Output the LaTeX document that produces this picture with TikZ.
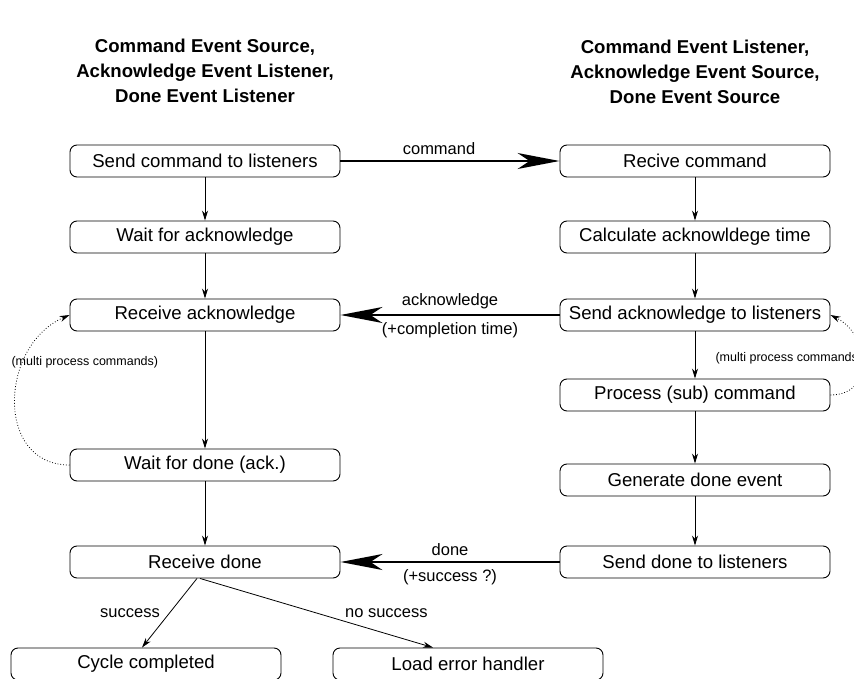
\documentclass[tikz,border=0pt]{standalone}
\usepackage{fontspec}
\setmainfont{Liberation Sans}
\usetikzlibrary{math,arrows.meta}

\begin{document}
\begin{tikzpicture}[x=1pt, y=-1pt,
    stepbox/.style={draw, line width=0.9pt, rounded corners=7pt, minimum width=270pt, minimum height=32pt, inner sep=0pt, font=\fontsize{18.6}{22}\selectfont},
    flow/.style={line width=0.8pt, -{Stealth[length=10pt,width=6pt]}},
    msg/.style={line width=2pt, -{Stealth[length=42pt,width=16pt,inset=12pt]}},
    lbl/.style={font=\fontsize{16.5}{19}\selectfont},
    note/.style={font=\fontsize{12.5}{15}\selectfont},
    head/.style={align=center, font=\bfseries\fontsize{18.6}{25}\selectfont},
    again/.style={dotted, line width=0.8pt, -{Stealth[length=10pt,width=6pt]}}]
  \tikzmath{%
    \lx = 205; \rx = 695;
    \ya = 161; \yb = 237; \yc = 315; \yd = 395; \ye = 480; \yf = 562;
    \yw = 465; \yg = 664;
  }
  \useasboundingbox (0,0) rectangle (854,679);

  \node[head] (lhead) at (\lx,71) {Command Event Source,\\Acknowledge Event Listener,\\Done Event Listener};
  \node[head] (rhead) at (\rx,72) {Command Event Listener,\\Acknowledge Event Source,\\Done Event Source};

  % source side
  \node[stepbox] (sendcmd) at (\lx,\ya) {Send command to listeners};
  \node[stepbox] (waitack) at (\lx,\yb) {Wait for acknowledge};
  \node[stepbox] (recvack) at (\lx,\yc) {Receive acknowledge};
  \node[stepbox] (waitdone) at (\lx,\yw) {Wait for done (ack.)};
  \node[stepbox] (recvdone) at (\lx,\yf) {Receive done};
  \node[stepbox] (cycle) at (146,\yg) {Cycle completed};
  \node[stepbox] (errh) at (468,\yg) {Load error handler};

  % listener side
  \node[stepbox] (recvcmd) at (\rx,\ya) {Recive command};
  \node[stepbox] (calcack) at (\rx,\yb) {Calculate acknowldege time};
  \node[stepbox] (sendack) at (\rx,\yc) {Send acknowledge to listeners};
  \node[stepbox] (procsub) at (\rx,\yd) {Process (sub) command};
  \node[stepbox] (gendone) at (\rx,\ye) {Generate done event};
  \node[stepbox] (senddone) at (\rx,\yf) {Send done to listeners};

  \draw[flow] (sendcmd) -- (waitack);
  \draw[flow] (waitack) -- (recvack);
  \draw[flow] (recvack) -- (waitdone);
  \draw[flow] (waitdone) -- (recvdone);
  \draw[flow] (recvcmd) -- (calcack);
  \draw[flow] (calcack) -- (sendack);
  \draw[flow] (sendack) -- (procsub);
  \draw[flow] (procsub) -- (gendone);
  \draw[flow] (gendone) -- (senddone);

  \draw[msg] (sendcmd) -- node[above=2pt, lbl, pos=0.45] {command} (recvcmd);
  \draw[msg] (sendack) -- node[above=2pt, lbl] {acknowledge} node[below=3pt, lbl] {(+completion time)} (recvack);
  \draw[msg] (senddone) -- node[above=2pt, lbl] {done} node[below=3pt, lbl] {(+success ?)} (recvdone);

  \draw[again] (waitdone.west) .. controls +(-75,0) and +(-70,30) .. (recvack.west);
  \draw[again] (procsub.east) .. controls +(45,0) and +(40,20) .. (sendack.east);
  \node[note, anchor=west] (lnote) at (8,362) {(multi process commands)};
  \node[note, anchor=west] (rnote) at (712,358) {(multi process commands)};

  \draw[flow] ([xshift=-8pt]recvdone.south) -- node[lbl, left=6pt, pos=0.5] {success} ([xshift=-4pt]cycle.north);
  \draw[flow] ([xshift=-5pt]recvdone.south) -- node[lbl, above=12pt, pos=0.8] {no success} ([xshift=-35pt]errh.north);
\end{tikzpicture}
\end{document}
